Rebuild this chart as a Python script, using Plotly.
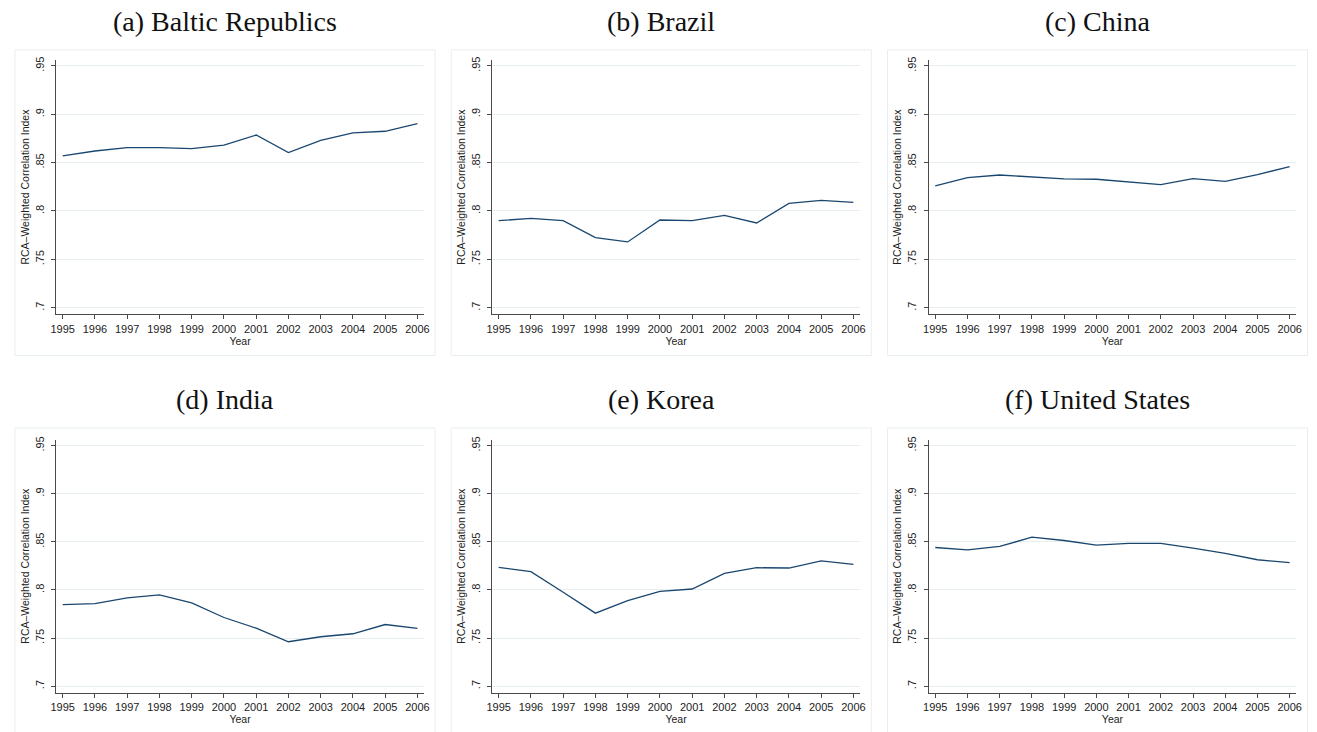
import plotly.graph_objects as go

W, H = 1317, 732

years = list(range(1995, 2007))

baltic = [0.857, 0.862, 0.8655, 0.8655, 0.8645, 0.868, 0.8785, 0.8603, 0.873, 0.8807, 0.8824, 0.8903]
brazil = [0.790, 0.7924, 0.790, 0.7724, 0.768, 0.7907, 0.790, 0.7955, 0.7876, 0.8079, 0.811, 0.809]
china = [0.8259, 0.8345, 0.8372, 0.8352, 0.8331, 0.8328, 0.830, 0.8272, 0.8334, 0.8307, 0.8376, 0.8459]
india = [0.7848, 0.7859, 0.7917, 0.7948, 0.7866, 0.7714, 0.7603, 0.7462, 0.7514, 0.7545, 0.7641, 0.760]
korea = [0.8234, 0.819, 0.7976, 0.7759, 0.789, 0.7986, 0.801, 0.8172, 0.8231, 0.8228, 0.8303, 0.8266]
united_states = [0.8441, 0.8417, 0.8452, 0.8548, 0.8514, 0.8466, 0.8483, 0.8483, 0.8434, 0.8379, 0.8314, 0.8283]

panel_titles = ["(a) Baltic Republics", "(b) Brazil", "(c) China",
                "(d) India", "(e) Korea", "(f) United States"]
series = [baltic, brazil, china, india, korea, united_states]

y_tickvals = [0.7, 0.75, 0.8, 0.85, 0.9, 0.95]
y_ticktext = [".7", ".75", ".8", ".85", ".9", ".95"]
x_ticktext = [str(y) for y in years]

y_title = "RCA\u2013Weighted Correlation Index"
x_title = "Year"

LINE_COLOR = "#1a476f"
GRID_COLOR = "#e6eef0"
FRAME_COLOR = "#e8eef0"
AXIS_COLOR = "#4a4a4a"
TICK_FONT = dict(family="Liberation Sans, Arial, sans-serif", size=11, color="#222222")
AXIS_TITLE_FONT = dict(family="Liberation Sans, Arial, sans-serif", size=10.5, color="#222222")
TITLE_FONT = dict(family="Liberation Serif, Times New Roman, serif", size=28, color="#111111")

# pixel geometry of each panel: plot-area left/right, and frame left/right
cols = [
    dict(ax_l=50.7, ax_r=421.7, fr_l=9, fr_r=433),
    dict(ax_l=490.7, ax_r=861.7, fr_l=449.3, fr_r=873.3),
    dict(ax_l=931.3, ax_r=1302.0, fr_l=889.7, fr_r=1313.5),
]
rows = [
    dict(ax_t=57.0, ax_b=312.7, fr_t=47, fr_b=354, title_y=18.5),
    dict(ax_t=438.3, ax_b=692.7, fr_t=426.7, fr_b=740, title_y=398),
]


def px_x(x):
    return x / W


def px_y(y):
    return 1 - y / H


fig = go.Figure()
layout = dict(
    width=W, height=H,
    margin=dict(l=0, r=0, t=0, b=0),
    paper_bgcolor="white", plot_bgcolor="white",
    showlegend=False,
)
shapes = []
annotations = []

for i, (title, vals) in enumerate(zip(panel_titles, series)):
    r, c = divmod(i, 3)
    col, row = cols[c], rows[r]
    n = i + 1
    xa = "xaxis" if n == 1 else f"xaxis{n}"
    ya = "yaxis" if n == 1 else f"yaxis{n}"
    xref = "x" if n == 1 else f"x{n}"
    yref = "y" if n == 1 else f"y{n}"

    fig.add_trace(go.Scatter(
        x=years, y=vals, mode="lines",
        line=dict(color=LINE_COLOR, width=1.3),
        xaxis=xref, yaxis=yref, hoverinfo="x+y",
    ))

    layout[xa] = dict(
        domain=[px_x(col["ax_l"]), px_x(col["ax_r"])],
        anchor=yref,
        range=[1994.8, 2006.2],
        tickmode="array", tickvals=years, ticktext=x_ticktext,
        ticks="outside", ticklen=4, tickwidth=1, tickcolor=AXIS_COLOR,
        showline=True, linecolor=AXIS_COLOR, linewidth=1,
        showgrid=False, zeroline=False,
        tickfont=TICK_FONT,
        title=dict(text=x_title, font=AXIS_TITLE_FONT, standoff=0),
        fixedrange=True,
    )
    layout[ya] = dict(
        domain=[px_y(row["ax_b"]), px_y(row["ax_t"])],
        anchor=xref,
        range=[0.6931, 0.9563],
        tickmode="array", tickvals=y_tickvals, ticktext=y_ticktext,
        tickangle=-90, ticklabelstandoff=3,
        ticks="outside", ticklen=4, tickwidth=1, tickcolor=AXIS_COLOR,
        showline=True, linecolor=AXIS_COLOR, linewidth=1,
        showgrid=True, gridcolor=GRID_COLOR, gridwidth=1,
        zeroline=False,
        tickfont=TICK_FONT,
        title=dict(text=y_title, font=AXIS_TITLE_FONT, standoff=2),
        fixedrange=True,
    )

    # light frame around each panel
    shapes.append(dict(
        type="rect", xref="paper", yref="paper",
        x0=px_x(col["fr_l"]), x1=px_x(col["fr_r"]),
        y0=px_y(row["fr_b"]), y1=px_y(row["fr_t"]),
        line=dict(color=FRAME_COLOR, width=1), fillcolor="rgba(0,0,0,0)",
        layer="below",
    ))

    annotations.append(dict(
        text=title, xref="paper", yref="paper",
        x=px_x((col["fr_l"] + col["fr_r"]) / 2), y=px_y(row["title_y"]),
        xanchor="center", yanchor="middle", showarrow=False,
        font=TITLE_FONT,
    ))

layout["shapes"] = shapes
layout["annotations"] = annotations
fig.update_layout(**layout)

fig.write_html("out.html")
